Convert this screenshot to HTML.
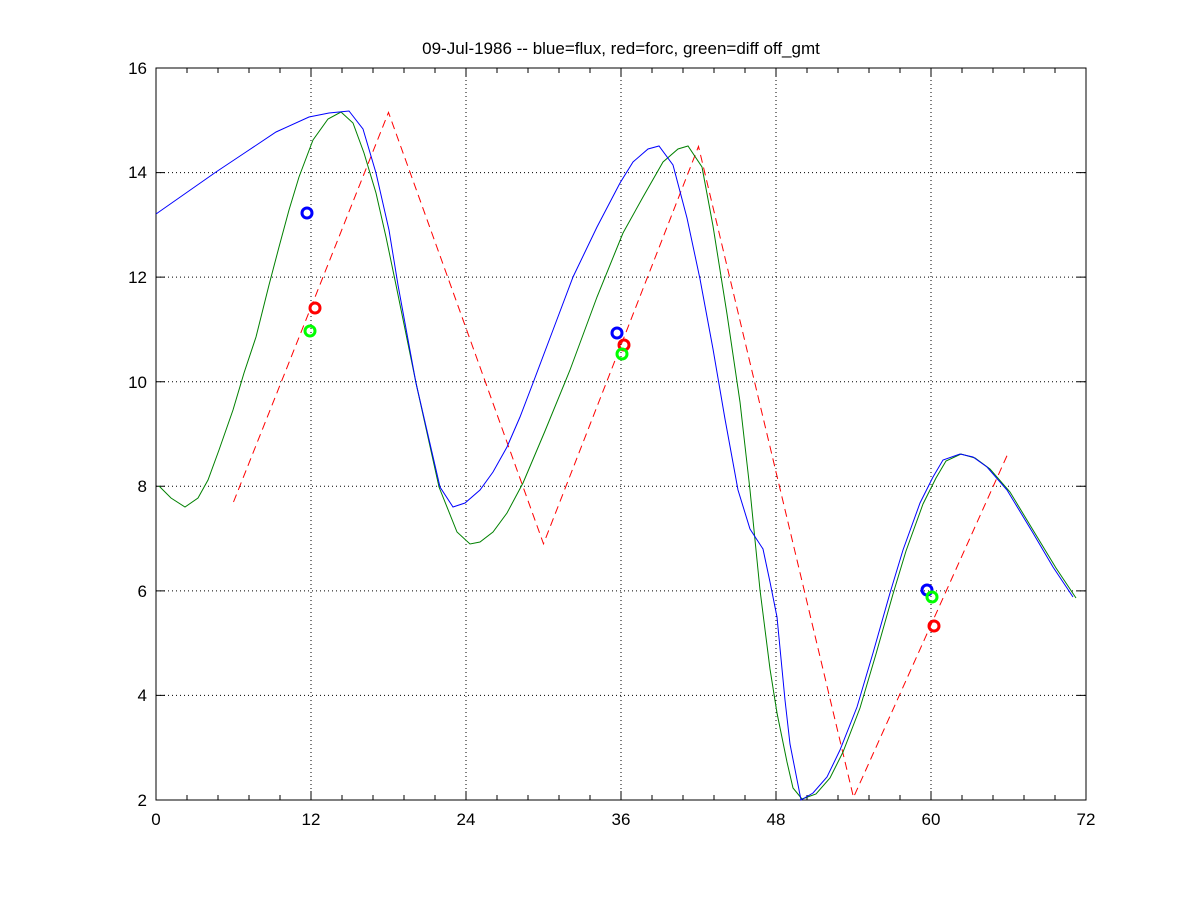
<!DOCTYPE html>
<html><head><style>body{margin:0;background:#fff}svg{display:block}text{font-family:"Liberation Sans",sans-serif;font-size:17px;fill:#000}</style></head><body>
<svg width="1200" height="900" xmlns="http://www.w3.org/2000/svg">
<rect width="1200" height="900" fill="#fff"/>
<g stroke="#000" stroke-width="1" stroke-dasharray="1,3">
<line x1="311" y1="68" x2="311" y2="800"/><line x1="466" y1="68" x2="466" y2="800"/><line x1="621" y1="68" x2="621" y2="800"/><line x1="776" y1="68" x2="776" y2="800"/><line x1="931" y1="68" x2="931" y2="800"/>
<line x1="156" y1="172.6" x2="1086" y2="172.6"/><line x1="156" y1="277.1" x2="1086" y2="277.1"/><line x1="156" y1="381.7" x2="1086" y2="381.7"/><line x1="156" y1="486.3" x2="1086" y2="486.3"/><line x1="156" y1="590.9" x2="1086" y2="590.9"/><line x1="156" y1="695.4" x2="1086" y2="695.4"/>
</g>
<rect x="156" y="68" width="930" height="732" fill="none" stroke="#000"/>
<g stroke="#000">
<path d="M311 800v-9M466 800v-9M621 800v-9M776 800v-9M931 800v-9M311 68v9M466 68v9M621 68v9M776 68v9M931 68v9"/>
<path d="M187 800v-5M218 800v-5M249 800v-5M280 800v-5M342 800v-5M373 800v-5M404 800v-5M435 800v-5M497 800v-5M528 800v-5M559 800v-5M590 800v-5M652 800v-5M683 800v-5M714 800v-5M745 800v-5M807 800v-5M838 800v-5M869 800v-5M900 800v-5M962 800v-5M993 800v-5M1024 800v-5M1055 800v-5"/>
<path d="M187 68v5M218 68v5M249 68v5M280 68v5M342 68v5M373 68v5M404 68v5M435 68v5M497 68v5M528 68v5M559 68v5M590 68v5M652 68v5M683 68v5M714 68v5M745 68v5M807 68v5M838 68v5M869 68v5M900 68v5M962 68v5M993 68v5M1024 68v5M1055 68v5"/>
<path d="M156 172.6h9M156 277.1h9M156 381.7h9M156 486.3h9M156 590.9h9M156 695.4h9M1086 172.6h-9M1086 277.1h-9M1086 381.7h-9M1086 486.3h-9M1086 590.9h-9M1086 695.4h-9"/>
</g>
<g text-anchor="middle">
<text x="156" y="825">0</text><text x="311" y="825">12</text><text x="466" y="825">24</text><text x="621" y="825">36</text><text x="776" y="825">48</text><text x="931" y="825">60</text><text x="1086" y="825">72</text>
<text x="621" y="54">09-Jul-1986 -- blue=flux, red=forc, green=diff off_gmt</text>
</g>
<g text-anchor="end">
<text x="147" y="74">16</text><text x="147" y="178">14</text><text x="147" y="283">12</text><text x="147" y="388">10</text><text x="147" y="492">8</text><text x="147" y="597">6</text><text x="147" y="701">4</text><text x="147" y="806">2</text>
</g>
<polyline fill="none" stroke="#ff0000" stroke-dasharray="8,5" points="233.5,502 388.5,112.4 543.5,543.8 698.5,146.4 853.5,797.4 1008.5,452.3"/>
<polyline fill="none" stroke="#008000" points="159,486 171,498 185,507 198,498 208,480 219,450 233,410 244,373 256,337 269,285 279,247 289,210 299,177 313,140 328,119 341,112 353,123 364,153 376,193 386,237 396,285 416,383 439,487 457,532 470,544 480,542 493,532 507,513 523,483 545,431 570,370 597,297 623,233 643,197 663,162 678,149 688,146 702,167 713,226 727,314 740,402 750,490 760,590 770,669 777,713 787,762 793,788 802,799 816,794 830,778 843,752 860,708 876,654 893,594 906,551 923,504 936,478 946,461 961,454 975,458 990,469 1010,492 1036,535 1056,568 1076,598"/>
<polyline fill="none" stroke="#0000ff" points="156,214 186,193 216,172 246,152 276,132 309,117 329,113 349,111 363,129 376,173 389,230 398,285 416,383 440,487 453,507 465,503 480,490 493,472 507,447 520,417 533,383 553,330 573,277 597,227 620,183 633,162 648,149 659,146 673,165 687,218 700,279 713,349 725,419 738,490 750,529 763,549 770,582 777,617 785,700 790,744 801,800 813,793 827,777 840,750 857,707 873,653 890,593 903,550 920,503 933,477 943,460 960,454 973,457 987,467 1007,490 1033,533 1053,567 1073,597"/>
<g fill="none" stroke-width="3">
<circle cx="307" cy="213" r="5" stroke="#0000ff"/><circle cx="617" cy="333" r="5" stroke="#0000ff"/><circle cx="927" cy="590" r="5" stroke="#0000ff"/>
<circle cx="315" cy="308" r="5" stroke="#ff0000"/><circle cx="624" cy="345" r="5" stroke="#ff0000"/><circle cx="934" cy="626" r="5" stroke="#ff0000"/>
<circle cx="310" cy="331" r="5" stroke="#00ff00"/><circle cx="622" cy="354" r="5" stroke="#00ff00"/><circle cx="932" cy="597" r="5" stroke="#00ff00"/>
</g>
</svg>
</body></html>
